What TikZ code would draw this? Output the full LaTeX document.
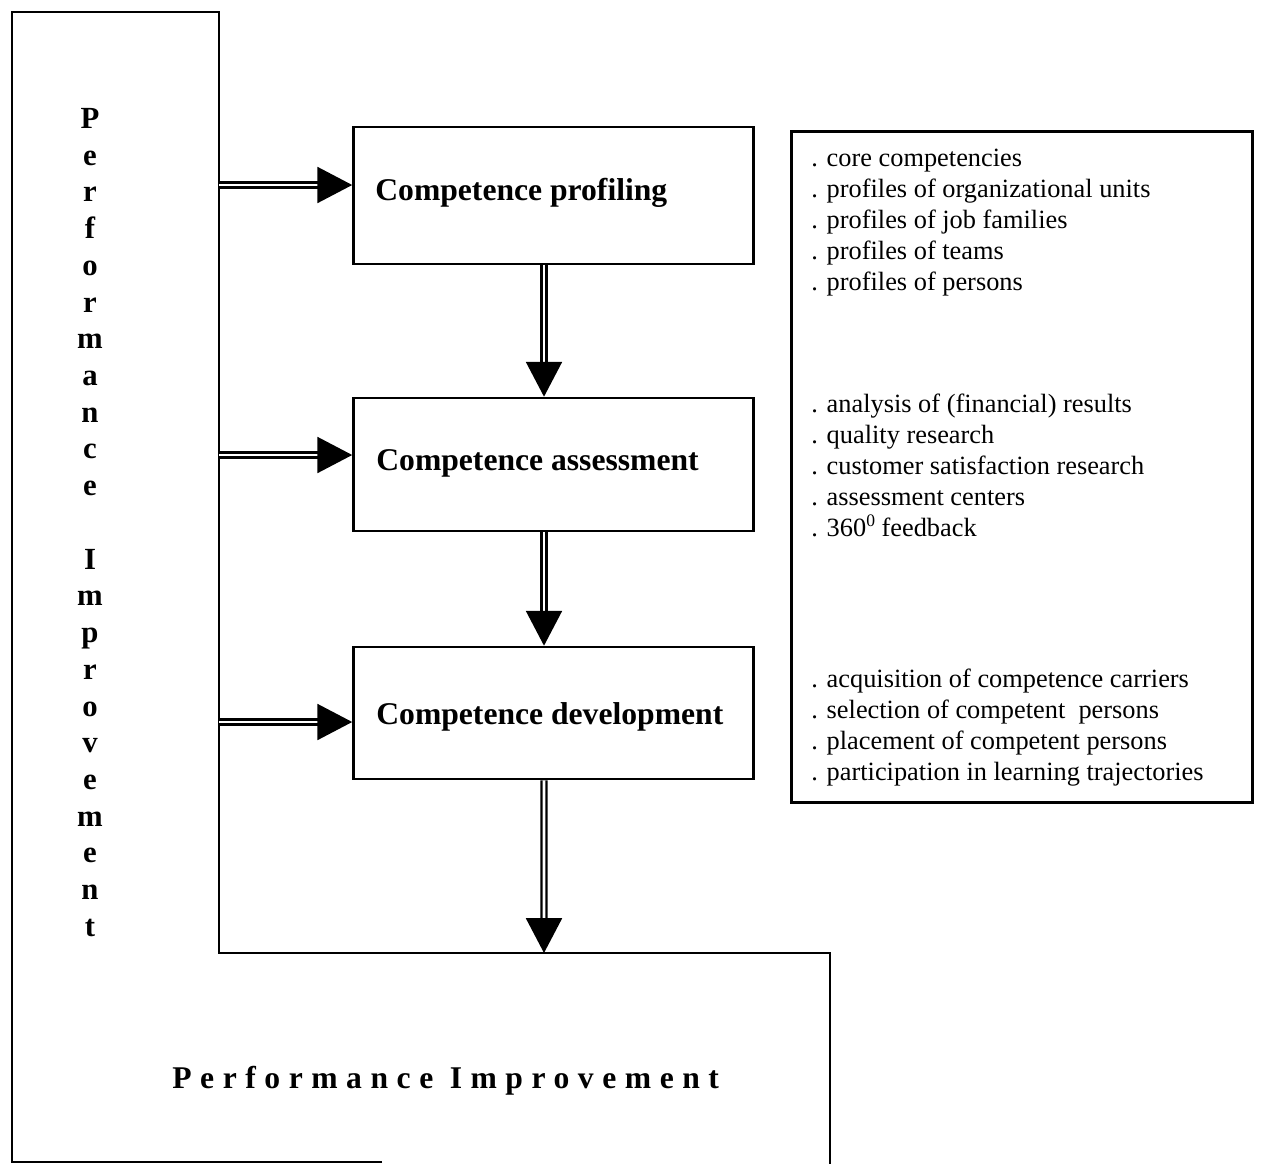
\documentclass[tikz,border=0pt]{standalone}
\usepackage{fontspec}
\setmainfont{Liberation Serif}
\newfontfamily\spacedfont[LetterSpace=27]{Liberation Serif}
\usetikzlibrary{arrows.meta}
\begin{document}
\begin{tikzpicture}[x=0.02cm,y=-0.02cm,
  frame/.style={line width=1.5pt, line join=miter},
  stagebox/.style={draw, line width=1.5pt, inner sep=0pt, minimum width=8.0cm},
  stagelabel/.style={inner sep=0pt, font=\fontsize{18pt}{20pt}\selectfont\bfseries},
  infobox/.style={draw, line width=1.5pt, inner sep=0pt},
  infotext/.style={inner sep=0pt, align=left, font=\fontsize{15pt}{17.6pt}\selectfont},
  vertlabel/.style={inner sep=0pt, align=center, font=\fontsize{17.5pt}{20.9pt}\selectfont\bfseries},
  dbl/.style={draw, double, double distance=1.5pt, line width=1.3pt,
    -{Triangle[length=19.8pt,width=20.4pt,fill=black]}}]
\useasboundingbox (0,0) rectangle (1261,1164);

% outer L-shaped frame
\draw[frame] (382,1162) -- (12,1162) -- (12,12) -- (219,12) -- (219,953) -- (830,953) -- (830,1164);

% stage boxes
\node[stagebox, minimum height=2.74cm] (prof) at (553.5,195.5) {};
\node[stagebox, minimum height=2.66cm] (asmt) at (553.5,464.5) {};
\node[stagebox, minimum height=2.64cm] (dev)  at (553.5,713) {};
\node[stagelabel, anchor=base west] (profl) at (375,200) {Competence profiling};
\node[stagelabel, anchor=base west] (asmtl) at (376,470) {Competence assessment};
\node[stagelabel, anchor=base west] (devl)  at (376,724) {Competence development};

% right info box
\node[infobox, minimum width=9.22cm, minimum height=13.42cm] (info) at (1022,467) {};
\node[infotext, anchor=north west] (list1) at (811,149) {. core competencies\\. profiles of organizational units\\. profiles of job families\\. profiles of teams\\. profiles of persons};
\node[infotext, anchor=north west] (list2) at (811,394) {. analysis of (financial) results\\. quality research\\. customer satisfaction research\\. assessment centers\\. 360\raisebox{0.85ex}{\fontsize{10pt}{10pt}\selectfont 0} feedback};
\node[infotext, anchor=north west] (list3) at (811,669) {. acquisition of competence carriers\\. selection of competent\ \ persons\\. placement of competent persons\\. participation in learning trajectories};

% vertical label
\node[vertlabel, anchor=north] (vert) at (90,108) {P\\e\\r\\f\\o\\r\\m\\a\\n\\c\\e\\~\\I\\m\\p\\r\\o\\v\\e\\m\\e\\n\\t};

% bottom label
\node[inner sep=0pt, anchor=base west, font=\fontsize{18pt}{20pt}\spacedfont\bfseries] (bottom) at (172,1088) {Performance Improvement};

% connectors
\coordinate (h1) at (219,185);
\coordinate (h2) at (219,455);
\coordinate (h3) at (219,722);
\coordinate (imp) at (544,953);
\draw[dbl] (h1) -- (h1 -| prof.west);
\draw[dbl] (h2) -- (h2 -| asmt.west);
\draw[dbl] (h3) -- (h3 -| dev.west);
\draw[dbl] ([xshift=-0.19cm]prof.south) -- ([xshift=-0.19cm]asmt.north);
\draw[dbl] ([xshift=-0.19cm]asmt.south) -- ([xshift=-0.19cm]dev.north);
\draw[dbl] ([xshift=-0.19cm]dev.south) -- (imp);
\end{tikzpicture}
\end{document}
